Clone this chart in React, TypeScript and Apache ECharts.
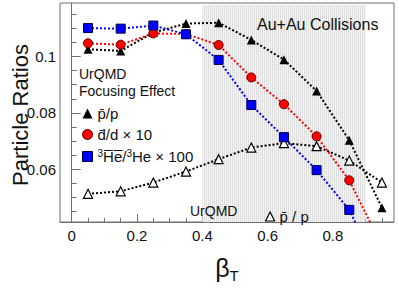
import React, { useEffect, useRef } from "react";
import * as echarts from "echarts";

const betaT = [0.05, 0.15, 0.25, 0.35, 0.45, 0.55, 0.65, 0.75, 0.85, 0.95];
const pbarP = [0.1026, 0.102, 0.1085, 0.1117, 0.112, 0.1059, 0.0989, 0.0878, 0.0703, 0.0464];
const dbarD10 = [0.1047, 0.1042, 0.1082, 0.108, 0.1041, 0.0926, 0.0831, 0.0717, 0.0561, 0.0328];
const he3bar100 = [0.1101, 0.1099, 0.111, 0.1079, 0.0988, 0.0828, 0.0714, 0.0597, 0.0456, 0.0212];
const urqmdPbarP = [0.0513, 0.0522, 0.0553, 0.0592, 0.0636, 0.0677, 0.0693, 0.0682, 0.0631, 0.0553];

const xMajorTicks = [0, 0.2, 0.4, 0.6, 0.8];
const xMinorTicks = [0.05, 0.1, 0.15, 0.25, 0.3, 0.35, 0.45, 0.5, 0.55, 0.65, 0.7, 0.75, 0.85, 0.9, 0.95];
const yMajorTicks = [0.06, 0.08, 0.1];
const yMinorTicks = [0.045, 0.05, 0.055, 0.065, 0.07, 0.075, 0.085, 0.09, 0.095, 0.105, 0.11, 0.115];
const shadeRange = [0.4, 0.9];

const X_MIN = -0.0358;
const X_MAX = 0.987;
const Y_MIN = 0.0413;
const Y_MAX = 0.119;

const FONT = "'Liberation Sans', Arial, Helvetica, sans-serif";
const AXIS_COLOR = "#707070";

const pairs = (ys: number[]) => betaT.map((x, i) => [x, ys[i]]);

function makePattern(): any {
  const c = document.createElement("canvas");
  c.width = 2;
  c.height = 2;
  const ctx = c.getContext("2d");
  if (!ctx) return "#e9e9e9";
  ctx.fillStyle = "#f5f5f5";
  ctx.fillRect(0, 0, 2, 2);
  ctx.fillStyle = "#d8d8d8";
  ctx.fillRect(0, 0, 1, 1);
  ctx.fillStyle = "#e4e4e4";
  ctx.fillRect(0, 1, 1, 1);
  return { image: c, repeat: "repeat" };
}

export default function App() {
  const ref = useRef<HTMLDivElement>(null);
  useEffect(() => {
    if (!ref.current) return;
    const chart = echarts.init(ref.current, undefined, { renderer: "svg" });
    const lineStyle = (color: string) => ({ color, width: 2, type: "dotted" as const });
    const names = {
      p: "p\u0304/p",
      d: "d\u0304/d \u00d7 10",
      he: "3He/3He \u00d7 100",
      u: "UrQMD p\u0304 / p",
    };
    const option: any = {
      animation: false,
      textStyle: { fontFamily: FONT },
      grid: {
        left: 60,
        right: 5,
        top: 3,
        bottom: 52,
        show: true,
        borderColor: AXIS_COLOR,
        borderWidth: 1,
        backgroundColor: "#fff",
      },
      xAxis: [
        {
          type: "value",
          min: X_MIN,
          max: X_MAX,
          position: "bottom",
          axisLine: { show: true, lineStyle: { color: AXIS_COLOR } },
          axisTick: { show: true, inside: true, length: 8, customValues: xMajorTicks, lineStyle: { color: AXIS_COLOR } },
          axisLabel: {
            show: true,
            customValues: xMajorTicks,
            color: "#111",
            fontSize: 15,
            fontFamily: FONT,
            margin: 6,
            formatter: (v: number) => String(Math.round(v * 10) / 10),
          },
          splitLine: { show: false },
          name: "\u03b2{sub|T}",
          nameLocation: "middle",
          nameGap: 30,
          nameTextStyle: {
            fontSize: 25,
            color: "#111",
            fontFamily: FONT,
            rich: { sub: { fontSize: 15, color: "#111", fontFamily: FONT, verticalAlign: "bottom", padding: [16, 0, 0, 0] } },
          },
        },
        {
          type: "value",
          min: X_MIN,
          max: X_MAX,
          position: "bottom",
          axisLine: { show: false },
          axisTick: { show: true, inside: true, length: 4, customValues: xMinorTicks, lineStyle: { color: AXIS_COLOR } },
          axisLabel: { show: false },
          splitLine: { show: false },
        },
      ],
      yAxis: [
        {
          type: "value",
          min: Y_MIN,
          max: Y_MAX,
          position: "left",
          axisLine: { show: true, lineStyle: { color: AXIS_COLOR } },
          axisTick: { show: true, inside: true, length: 9, customValues: yMajorTicks, lineStyle: { color: AXIS_COLOR } },
          axisLabel: {
            show: true,
            customValues: yMajorTicks,
            color: "#111",
            fontSize: 15,
            fontFamily: FONT,
            margin: 4,
            formatter: (v: number) => String(Math.round(v * 100) / 100),
          },
          splitLine: { show: false },
        },
        {
          type: "value",
          min: Y_MIN,
          max: Y_MAX,
          position: "left",
          offset: 0,
          axisLine: { show: false },
          axisTick: { show: true, inside: true, length: 5, customValues: yMinorTicks, lineStyle: { color: AXIS_COLOR } },
          axisLabel: { show: false },
          splitLine: { show: false },
        },
      ],
      legend: [
        {
          orient: "vertical",
          left: 77,
          top: 101,
          itemWidth: 10,
          itemHeight: 10,
          itemGap: 6,
          selectedMode: false,
          z: 20,
          textStyle: {
            fontSize: 15,
            color: "#111",
            fontFamily: FONT,
            rich: {
              sup: { fontSize: 10, color: "#111", fontFamily: FONT, verticalAlign: "top", padding: [0, 0, 7, 0] },
              t: { fontSize: 15, color: "#111", fontFamily: FONT },
            },
          },
          formatter: (name: string) => {
            if (name === names.he) return "{sup|3}{t|H\u0305e\u0305/}{sup|3}{t|He \u00d7 100}";
            return name;
          },
          data: [
            { name: names.p, icon: "triangle", itemStyle: { color: "#000" } },
            { name: names.d, icon: "circle", itemStyle: { color: "#ff0000", borderColor: "#550000", borderWidth: 1 } },
            { name: names.he, icon: "rect", itemStyle: { color: "#0000ff", borderColor: "#000044", borderWidth: 1 } },
          ],
        },
        {
          orient: "horizontal",
          left: 260,
          top: 204,
          itemWidth: 9,
          itemHeight: 9,
          selectedMode: false,
          z: 20,
          textStyle: { fontSize: 15, color: "#111", fontFamily: FONT },
          formatter: () => "p\u0304 / p",
          data: [{ name: names.u, icon: "triangle", itemStyle: { color: "#fff", borderColor: "#000", borderWidth: 1.2 } }],
        },
      ],
      graphic: [
        {
          type: "text",
          left: 257,
          top: 16,
          z: 100,
          silent: true,
          style: { text: "Au+Au Collisions", fontSize: 16, fill: "#111", fontFamily: FONT },
        },
        {
          type: "text",
          left: 79,
          top: 67,
          z: 100,
          silent: true,
          style: { text: "UrQMD", fontSize: 14, fill: "#111", fontFamily: FONT },
        },
        {
          type: "text",
          left: 79,
          top: 84,
          z: 100,
          silent: true,
          style: { text: "Focusing Effect", fontSize: 14, fill: "#111", fontFamily: FONT },
        },
        {
          type: "text",
          left: 190,
          top: 204,
          z: 100,
          silent: true,
          style: { text: "UrQMD", fontSize: 14, fill: "#111", fontFamily: FONT },
        },
        {
          type: "text",
          x: 20,
          y: 115,
          rotation: Math.PI / 2,
          z: 100,
          silent: true,
          style: {
            text: "Particle Ratios",
            fontSize: 22,
            fill: "#111",
            fontFamily: FONT,
            align: "center",
            verticalAlign: "middle",
          },
        },
      ],
      series: [
        {
          type: "line",
          name: "shade",
          data: [],
          z: 1,
          silent: true,
          markArea: {
            silent: true,
            itemStyle: { color: makePattern() },
            data: [[{ xAxis: shadeRange[0], yAxis: Y_MIN }, { xAxis: shadeRange[1], yAxis: 0.1183 }]],
          },
        },
        {
          type: "line",
          name: names.u,
          data: pairs(urqmdPbarP),
          z: 2,
          symbol: "triangle",
          symbolSize: 9,
          lineStyle: lineStyle("#000"),
          itemStyle: { color: "#fff", borderColor: "#000", borderWidth: 1.2 },
        },
        {
          type: "line",
          name: names.p,
          data: pairs(pbarP),
          z: 3,
          symbol: "triangle",
          symbolSize: 9,
          clip: true,
          lineStyle: lineStyle("#000"),
          itemStyle: { color: "#000" },
        },
        {
          type: "line",
          name: names.d,
          data: pairs(dbarD10),
          z: 4,
          symbol: "circle",
          symbolSize: 9,
          clip: true,
          lineStyle: lineStyle("#ff0000"),
          itemStyle: { color: "#ff0000", borderColor: "#550000", borderWidth: 1 },
        },
        {
          type: "line",
          name: names.he,
          data: pairs(he3bar100),
          z: 5,
          symbol: "rect",
          symbolSize: 9,
          clip: true,
          lineStyle: lineStyle("#0000ff"),
          itemStyle: { color: "#0000ff", borderColor: "#000044", borderWidth: 1 },
        },
      ],
    };
    chart.setOption(option);
    return () => chart.dispose();
  }, []);
  return (
    <div
      ref={ref}
      style={{ position: "fixed", left: 0, top: 0, width: 399, height: 288, background: "#fff" }}
    />
  );
}
